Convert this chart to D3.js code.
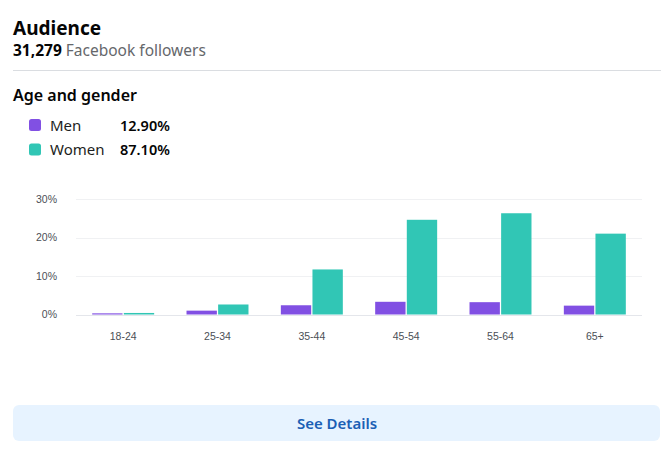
<!DOCTYPE html>
<html><head><meta charset="utf-8">
<script src="https://cdn.jsdelivr.net/npm/d3@7"></script>
<style>
html,body{margin:0;padding:0;background:#fff;}
svg{display:block;font-family:"Noto Sans","Open Sans",sans-serif;}
</style></head>
<body>
<svg id="chart" width="670" height="471"></svg>
<script>
const categories = ["18-24","25-34","35-44","45-54","55-64","65+"];
const seriesNames = ["Men","Women"];
const menValues = [0.3, 1.0, 2.4, 3.3, 3.2, 2.3];
const womenValues = [0.4, 2.6, 11.7, 24.6, 26.3, 21.0];
const legendTotals = ["12.90%","87.10%"];
const yTicks = [0, 10, 20, 30];
const colors = ["#8150e3","#31c6b5"];

const svg = d3.select("#chart");

// Header
svg.append("text").attr("x",13).attr("y",35).attr("font-size",19).attr("font-weight",700)
  .attr("fill","#050505").text("Audience");
const sub = svg.append("text").attr("x",13).attr("y",56).attr("font-size",15.5);
sub.append("tspan").attr("font-weight",700).attr("fill","#050505").text("31,279");
sub.append("tspan").attr("fill","#65676b").text(" Facebook followers");
svg.append("line").attr("x1",13).attr("x2",661).attr("y1",70.5).attr("y2",70.5)
  .attr("stroke","#dadde1").attr("stroke-width",1);

svg.append("text").attr("x",13).attr("y",101).attr("font-size",16).attr("font-weight",600)
  .attr("fill","#050505").text("Age and gender");

// Legend
const leg = svg.append("g");
seriesNames.forEach((n,i)=>{
  const y = 119 + i*24.5;
  leg.append("rect").attr("x",29).attr("y",y).attr("width",12).attr("height",12)
    .attr("rx",2.5).attr("fill",colors[i]);
  leg.append("text").attr("x",50).attr("y",y+11.5).attr("font-size",15)
    .attr("fill","#1c1e21").text(n);
  leg.append("text").attr("x",120).attr("y",y+11.5).attr("font-size",14.5).attr("font-weight",600)
    .attr("fill","#050505").text(legendTotals[i]);
});

// Chart
const x0 = d3.scaleBand().domain(categories).range([76,642]).paddingInner(0.343).paddingOuter(0.1715);
const x1 = d3.scaleBand().domain(seriesNames).range([0,x0.bandwidth()]).paddingInner(0.04);
const y = d3.scaleLinear().domain([0,30]).range([314.5,199]);

const grid = svg.append("g");
yTicks.forEach(t=>{
  grid.append("line").attr("x1",76).attr("x2",642).attr("y1",Math.round(y(t))+0.5).attr("y2",Math.round(y(t))+0.5)
    .attr("stroke", t===0 ? "#e4e6eb" : "#f0f1f3").attr("stroke-width",1);
});

const yAxis = svg.append("g").attr("transform","translate(57,0)")
  .call(d3.axisLeft(y).tickValues(yTicks).tickFormat(d=>d+"%").tickSize(0).tickPadding(0));
yAxis.select(".domain").remove();
yAxis.selectAll("text").attr("font-size",10.5).attr("fill","#4b4f56").attr("font-family","'Liberation Sans',Arial,sans-serif");

const xAxis = svg.append("g").attr("transform","translate(0,333)")
  .call(d3.axisBottom(x0).tickSize(0).tickPadding(0));
xAxis.select(".domain").remove();
xAxis.selectAll("text").attr("font-size",10.5).attr("fill","#4b4f56").attr("font-family","'Liberation Sans',Arial,sans-serif");

const data = categories.map((c,i)=>({cat:c, vals:[menValues[i], womenValues[i]]}));
const groups = svg.append("g").selectAll("g").data(data).join("g")
  .attr("transform",d=>`translate(${x0(d.cat)},0)`);
groups.selectAll("rect").data(d=>d.vals.map((v,i)=>({s:seriesNames[i],v,i}))).join("rect")
  .attr("x",d=>x1(d.s)).attr("width",x1.bandwidth())
  .attr("y",d=>y(d.v)).attr("height",d=>y(0)-y(d.v))
  .attr("fill",d=>colors[d.i]);

// Button
svg.append("rect").attr("x",13).attr("y",405).attr("width",647).attr("height",36).attr("rx",6)
  .attr("fill","#e7f3ff");
svg.append("text").attr("x",337).attr("y",429).attr("text-anchor","middle").attr("font-size",15)
  .attr("font-weight",600).attr("fill","#1b5fb5").text("See Details");
</script>
</body></html>
